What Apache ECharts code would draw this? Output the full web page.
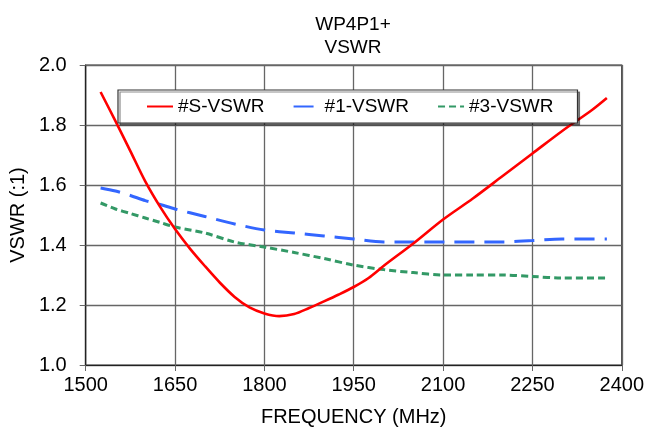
<!DOCTYPE html>
<html>
<head>
<meta charset="utf-8">
<script src="https://cdn.jsdelivr.net/npm/echarts@6/dist/echarts.min.js"></script>
<style>
html,body{margin:0;padding:0;background:#fff;}
#chart{width:647px;height:433px;}
</style>
</head>
<body>
<div id="chart"></div>
<script>
// Frequencies (MHz) and VSWR values per series
var sFreq = [1525,1550,1575,1600,1625,1650,1675,1700,1725,1750,1775,1800,1825,1850,1875,1900,1925,1950,1975,2000,2050,2100,2150,2200,2250,2300,2350,2375];
var sVswr = [1.91,1.813,1.713,1.612,1.527,1.453,1.388,1.33,1.275,1.227,1.192,1.172,1.163,1.17,1.19,1.212,1.235,1.26,1.29,1.33,1.405,1.485,1.555,1.63,1.705,1.78,1.85,1.89];
var f1Freq = [1525,1550,1575,1600,1625,1650,1700,1750,1800,1850,1900,1950,2000,2050,2100,2150,2200,2250,2300,2375];
var f1Vswr = [1.59,1.58,1.565,1.548,1.535,1.52,1.495,1.47,1.45,1.44,1.43,1.42,1.41,1.41,1.41,1.41,1.41,1.415,1.42,1.42];
var f3Freq = [1525,1550,1575,1600,1625,1650,1700,1750,1800,1850,1900,1950,2000,2050,2100,2150,2200,2250,2300,2375];
var f3Vswr = [1.54,1.52,1.505,1.49,1.475,1.46,1.44,1.41,1.393,1.375,1.355,1.333,1.318,1.308,1.30,1.30,1.30,1.295,1.29,1.29];
var seriesNames = ['#S-VSWR','#1-VSWR','#3-VSWR'];
var xTicks = [1500,1650,1800,1950,2100,2250,2400];
var yTicks = [1.0,1.2,1.4,1.6,1.8,2.0];

function pairs(xs, ys){ return xs.map(function(x,i){ return [x, ys[i]]; }); }

var font = 'Liberation Sans, Arial, sans-serif';
var chart = echarts.init(document.getElementById('chart'), null, {renderer:'canvas'});
chart.setOption({
  animation:false,
  backgroundColor:'#fff',
  title:{
    text:'WP4P1+\nVSWR',
    left:348, top:8, textAlign:'center',
    textStyle:{fontFamily:font, fontSize:19, fontWeight:'normal', color:'#000', lineHeight:23}
  },
  legend:{
    left:118, top:90,
    padding:[7,24,7,28],
    itemGap:28, itemWidth:26, itemHeight:14,
    backgroundColor:'#fff', borderColor:'#333', borderWidth:1.2,
    shadowColor:'rgba(0,0,0,0.45)', shadowOffsetX:2, shadowOffsetY:2, shadowBlur:0,
    itemStyle:{opacity:0},
    textStyle:{fontFamily:font, fontSize:19, color:'#000'},
    data:seriesNames
  },
  grid:{left:85, top:65, width:540, height:300, show:true, borderColor:'#333', borderWidth:1.2, containLabel:false},
  xAxis:{
    type:'value', min:xTicks[0], max:xTicks[xTicks.length-1], interval:150,
    name:'FREQUENCY (MHz)', nameLocation:'middle', nameGap:42,
    nameTextStyle:{fontFamily:font, fontSize:20, color:'#000'},
    axisLine:{show:true, lineStyle:{color:'#222', width:1.2}},
    axisTick:{show:true, inside:false, length:6, lineStyle:{color:'#666'}},
    axisLabel:{fontFamily:font, fontSize:20, color:'#000', margin:10, formatter:function(v){return String(v);}},
    splitLine:{show:true, lineStyle:{color:'#666', width:1.3}}
  },
  yAxis:{
    type:'value', min:yTicks[0], max:yTicks[yTicks.length-1], interval:0.2,
    name:'VSWR (:1)', nameLocation:'middle', nameGap:56, nameRotate:90,
    nameTextStyle:{fontFamily:font, fontSize:20, color:'#000'},
    axisLine:{show:true, lineStyle:{color:'#222', width:1.2}},
    axisTick:{show:true, inside:false, length:6, lineStyle:{color:'#666'}},
    axisLabel:{fontFamily:font, fontSize:20, color:'#000', margin:19, formatter:function(v){return v.toFixed(1);}},
    splitLine:{show:true, lineStyle:{color:'#666', width:1.3}}
  },
  series:[
    {name:seriesNames[0], type:'line', smooth:0.3, symbol:'none', data:pairs(sFreq,sVswr),
     lineStyle:{color:'#ff0000', width:2.6, type:'solid'}, itemStyle:{color:'#ff0000'}, z:3},
    {name:seriesNames[1], type:'line', smooth:0.3, symbol:'none', data:pairs(f1Freq,f1Vswr),
     lineStyle:{color:'#3366ff', width:3, type:[20,10]}, itemStyle:{color:'#3366ff'}, z:2},
    {name:seriesNames[2], type:'line', smooth:0.3, symbol:'none', data:pairs(f3Freq,f3Vswr),
     lineStyle:{color:'#339966', width:3, type:[7,4]}, itemStyle:{color:'#339966'}, z:2}
  ]
});
</script>
</body>
</html>
